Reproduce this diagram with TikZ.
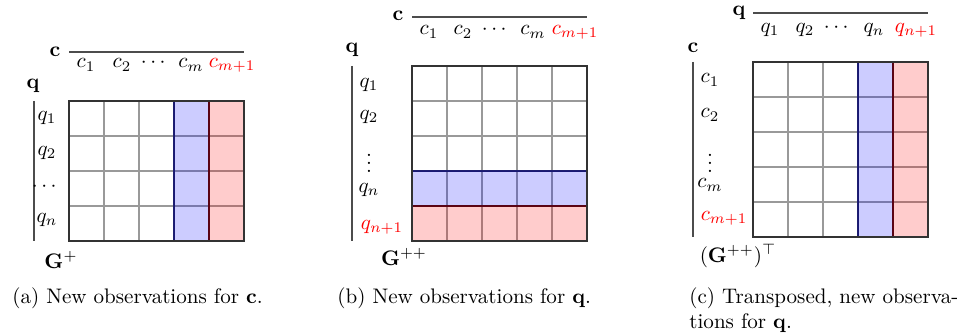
\documentclass[tikz,border=0pt]{standalone}
\usepackage{amsmath}

\begin{document}
\begin{tikzpicture}[x=0.475pt, y=-0.475pt,
  cell/.style={draw=black!40, line width=0.5pt},
  mframe/.style={draw=black!80, line width=0.7pt},
  axisline/.style={draw=black!70, line width=0.6pt},
  newblue/.style={fill=blue, fill opacity=0.2, draw=blue!40!black, draw opacity=0.8, line width=0.6pt},
  newred/.style={fill=red, fill opacity=0.2, draw=red!40!black, draw opacity=0.8, line width=0.6pt},
  lab/.style={font=\normalsize, inner sep=0pt},
  newlab/.style={font=\normalsize, inner sep=0pt, text=red},
  captext/.style={anchor=base west, inner sep=0pt, align=left}]
  \def\cs{35};
  \useasboundingbox (0,0) rectangle (957,335);

  % (a) new column
  \coordinate (A0) at (69,101);
  \coordinate (A1) at (244,241);
  \foreach \i in {1,...,4} \draw[cell] ({69+\i*\cs},101) -- ({69+\i*\cs},241);
  \foreach \j in {1,...,3} \draw[cell] (69,{101+\j*\cs}) -- (244,{101+\j*\cs});
  \draw[newblue] (174,101) rectangle (209,241);
  \draw[newred] (209,101) rectangle (244,241);
  \draw[mframe] (A0) rectangle (A1);
  \coordinate (aT1) at (69,52);
  \coordinate (aT2) at (244,52);
  \coordinate (aL1) at (34,101);
  \coordinate (aL2) at (34,241);
  \draw[axisline] (aT1) -- (aT2);
  \draw[axisline] (aL1) -- (aL2);
  \node[lab] (ac) at (55,52) {$\mathbf{c}$};
  \node[lab] (aq) at (33,86) {$\mathbf{q}$};
  \node[lab] (ac1) at (86,65) {$c_1$};
  \node[lab] (ac2) at (122,65) {$c_2$};
  \node[lab] (acd) at (155,63) {$\cdots$};
  \node[lab] (acm) at (191,65) {$c_m$};
  \node[newlab] (acn) at (232,65) {$c_{m+1}$};
  \node[lab] (aq1) at (47,118) {$q_1$};
  \node[lab] (aq2) at (47,153) {$q_2$};
  \node[lab] (aqd) at (46,187) {$\cdots$};
  \node[lab] (aqn) at (47,220) {$q_n$};
  \node[lab] (aG) at (61,260) {$\mathbf{G}^{+}$};
  \node[captext] (capA) at (12,304) {(a) New observations for $\mathbf{c}$.};

  % (b) new row
  \coordinate (B0) at (412,66);
  \coordinate (B1) at (587,241);
  \foreach \i in {1,...,4} \draw[cell] ({412+\i*\cs},66) -- ({412+\i*\cs},241);
  \foreach \j in {1,...,4} \draw[cell] (412,{66+\j*\cs}) -- (587,{66+\j*\cs});
  \draw[newblue] (412,171) rectangle (587,206);
  \draw[newred] (412,206) rectangle (587,241);
  \draw[mframe] (B0) rectangle (B1);
  \coordinate (bT1) at (412,17);
  \coordinate (bT2) at (587,17);
  \coordinate (bL1) at (352,66);
  \coordinate (bL2) at (352,241);
  \draw[axisline] (bT1) -- (bT2);
  \draw[axisline] (bL1) -- (bL2);
  \node[lab] (bc) at (398,16) {$\mathbf{c}$};
  \node[lab] (bq) at (352,50) {$\mathbf{q}$};
  \node[lab] (bc1) at (429,32) {$c_1$};
  \node[lab] (bc2) at (463,32) {$c_2$};
  \node[lab] (bcd) at (496,30) {$\cdots$};
  \node[lab] (bcm) at (533,32) {$c_m$};
  \node[newlab] (bcn) at (575,32) {$c_{m+1}$};
  \node[lab] (bq1) at (369,85) {$q_1$};
  \node[lab] (bq2) at (369,117) {$q_2$};
  \node[lab] (bqd) at (369,157) {$\vdots$};
  \node[lab] (bqn) at (369,190) {$q_n$};
  \node[newlab] (bqm) at (382,227) {$q_{n+1}$};
  \node[lab] (bG) at (404,257) {$\mathbf{G}^{++}$};
  \node[captext] (capB) at (337,304) {(b) New observations for $\mathbf{q}$.};

  % (c) transposed
  \coordinate (C0) at (753,62);
  \coordinate (C1) at (928,237);
  \foreach \i in {1,...,4} \draw[cell] ({753+\i*\cs},62) -- ({753+\i*\cs},237);
  \foreach \j in {1,...,4} \draw[cell] (753,{62+\j*\cs}) -- (928,{62+\j*\cs});
  \draw[newblue] (858,62) rectangle (893,237);
  \draw[newred] (893,62) rectangle (928,237);
  \draw[mframe] (C0) rectangle (C1);
  \coordinate (cT1) at (753,13);
  \coordinate (cT2) at (928,13);
  \coordinate (cL1) at (693,62);
  \coordinate (cL2) at (693,237);
  \draw[axisline] (cT1) -- (cT2);
  \draw[axisline] (cL1) -- (cL2);
  \node[lab] (cq) at (739,13) {$\mathbf{q}$};
  \node[lab] (cc) at (693,48) {$\mathbf{c}$};
  \node[lab] (cq1) at (770,30) {$q_1$};
  \node[lab] (cq2) at (805,30) {$q_2$};
  \node[lab] (cqd) at (838,28) {$\cdots$};
  \node[lab] (cqn) at (874,30) {$q_n$};
  \node[newlab] (cqm) at (916,30) {$q_{n+1}$};
  \node[lab] (cc1) at (710,80) {$c_1$};
  \node[lab] (cc2) at (710,115) {$c_2$};
  \node[lab] (ccd) at (710,157) {$\vdots$};
  \node[lab] (ccm) at (710,185) {$c_m$};
  \node[newlab] (ccn) at (724,218) {$c_{m+1}$};
  \node[lab] (cG) at (738,256) {$(\mathbf{G}^{++})^{\top}$};
  \node[captext] (capC) at (689,329) {(c) Transposed, new observa-\\tions for $\mathbf{q}$.};
\end{tikzpicture}
\end{document}
